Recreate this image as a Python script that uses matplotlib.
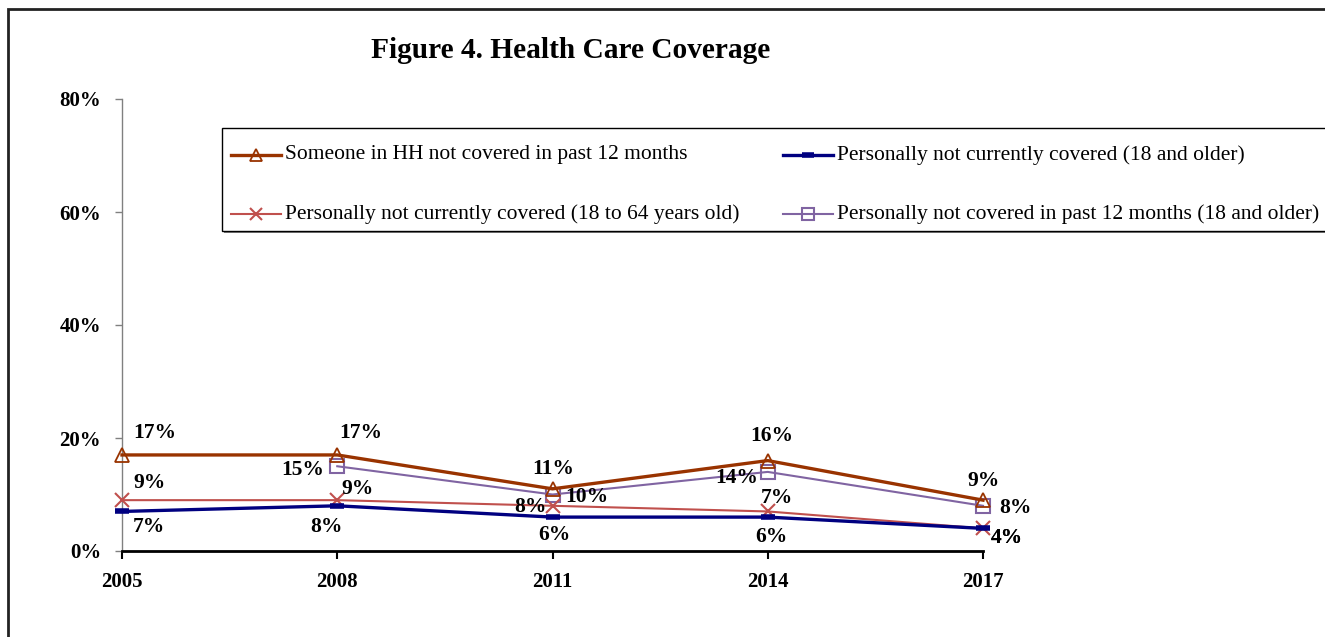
import matplotlib
matplotlib.use("Agg")
import matplotlib.pyplot as plt
import numpy as np
from matplotlib.lines import Line2D
from matplotlib.patches import Rectangle

plt.rcParams['font.family'] = ['Liberation Serif', 'DejaVu Serif']

# ---- data ----
years = [2005, 2008, 2011, 2014, 2017]
hh_not_covered_12m = [17, 17, 11, 16, 9]
not_current_18plus = [7, 8, 6, 6, 4]
not_current_18_64 = [9, 9, 8, 7, 4]
not_covered_12m_18plus = [np.nan, 15, 10, 14, 8]

labels = [
    "Someone in HH not covered in past 12 months",
    "Personally not currently covered (18 and older)",
    "Personally not currently covered (18 to 64 years old)",
    "Personally not covered in past 12 months (18 and older)",
]
y_ticks = [0, 20, 40, 60, 80]
y_tick_labels = ["0%", "20%", "40%", "60%", "80%"]

W, H = 1325, 637
fig = plt.figure(figsize=(W / 100, H / 100), dpi=100)


def fx(x):
    return x / W


def fy(y):
    return 1 - y / H


ax = fig.add_axes([fx(122), fy(551), fx(983) - fx(122), fy(99) - fy(551)])
ax.set_xlim(2005, 2017)
ax.set_ylim(0, 80)

# series styles
styles = [
    dict(color="#993300", lw=2.4, marker="^", ms=9.5, mfc="none", mew=1.3),
    dict(color="#000080", lw=2.4, marker="_", ms=10, mew=4),
    dict(color="#C0504D", lw=1.5, marker="x", ms=9.5, mew=1.5),
    dict(color="#8064A2", lw=1.5, marker="s", ms=9.5, mfc="none", mew=1.5),
]
series = [hh_not_covered_12m, not_current_18plus, not_current_18_64, not_covered_12m_18plus]

# label offsets in pixels (dx right, dy up)
offsets = [
    [(33, 22), (23, 22), (1, 20), (4, 25), (0, 19)],
    [(27, -16), (-11, -21), (2, -18), (4, -20), (24, -10)],
    [(27, 17), (20, 11), (-22, -1), (9, 13), (24, -10)],
    [None, (-35, -4), (34, -2), (-31, -6), (32, -2)],
]

draw_order = [3, 2, 1, 0]
for i in draw_order:
    ax.plot(years, series[i], clip_on=False, zorder=3 + (3 - i) * 0.1, **styles[i])

for i in range(4):
    for x, v, off in zip(years, series[i], offsets[i]):
        if off is None or np.isnan(v):
            continue
        ax.annotate(f"{v:.0f}%", (x, v), xytext=(off[0] * 0.72, off[1] * 0.72),
                    textcoords="offset points", ha="center", va="center",
                    fontsize=15.5, fontweight="bold", annotation_clip=False, zorder=6)

# axes styling
for s in ["top", "right"]:
    ax.spines[s].set_visible(False)
ax.spines["left"].set_color("#808080")
ax.spines["left"].set_linewidth(1.0)
ax.spines["bottom"].set_color("black")
ax.spines["bottom"].set_linewidth(2.0)
ax.set_yticks(y_ticks)
ax.set_yticklabels(y_tick_labels)
ax.set_xticks(years)
ax.set_xticklabels([str(y) for y in years])
ax.tick_params(axis="y", direction="out", length=5, width=1, color="#808080", pad=10)
ax.tick_params(axis="x", direction="out", length=6, width=1.5, color="black", pad=9)
for t in ax.get_xticklabels() + ax.get_yticklabels():
    t.set_fontsize(15)
    t.set_fontweight("bold")

# title
fig.text(fx(571), fy(50), "Figure 4. Health Care Coverage", ha="center", va="center",
         fontsize=21.2, fontweight="bold")

# outer frame
fig.patches.append(Rectangle((fx(8), fy(660)), fx(1340) - fx(8), fy(9) - fy(660),
                             transform=fig.transFigure, fill=False, ec="#222222", lw=2.0,
                             zorder=0))

# legend box with shadow
lx0, ly0, lx1, ly1 = 222, 128, 1345, 231
fig.patches.append(Rectangle((fx(lx0 + 2), fy(ly1 + 2)), fx(lx1) - fx(lx0), fy(ly0) - fy(ly1),
                             transform=fig.transFigure, fc="#808080", ec="none", zorder=1))
fig.patches.append(Rectangle((fx(lx0), fy(ly1)), fx(lx1) - fx(lx0), fy(ly0) - fy(ly1),
                             transform=fig.transFigure, fc="white", ec="black", lw=1.0,
                             zorder=2))

leg_pos = [(231, 155), (783, 155), (231, 214), (783, 214)]
leg_series = [0, 1, 2, 3]
for (hx, hy), i, lab in zip(leg_pos, leg_series, labels):
    st = dict(styles[i])
    st["ms"] = st["ms"] * 0.85
    fig.add_artist(Line2D([fx(hx), fx(hx + 50)], [fy(hy), fy(hy)], transform=fig.transFigure,
                          zorder=3, **{k: v for k, v in st.items() if k != "marker"}))
    fig.add_artist(Line2D([fx(hx + 25)], [fy(hy)], transform=fig.transFigure, zorder=3,
                          linestyle="none", **{k: v for k, v in st.items() if k != "lw"}))
    fig.text(fx(hx + 54), fy(hy), lab, ha="left", va="center", fontsize=15.5, zorder=3)

fig.savefig("out.png", dpi=100)
